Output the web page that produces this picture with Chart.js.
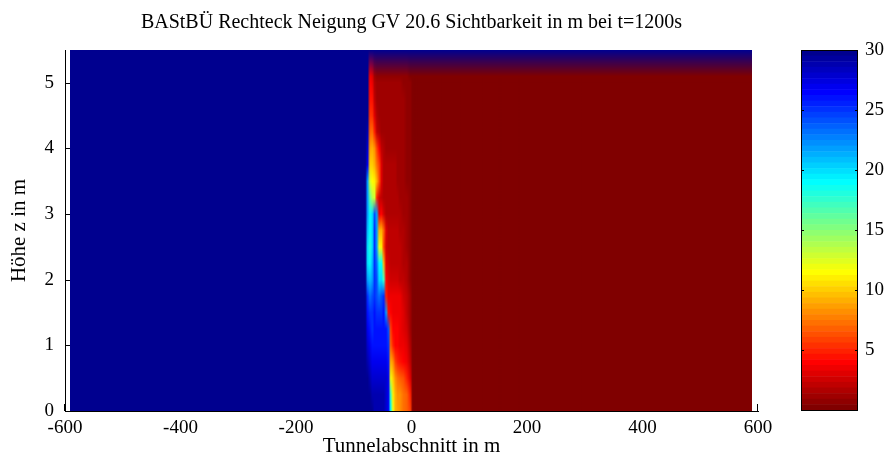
<!DOCTYPE html>
<html>
<head>
<meta charset="utf-8">
<script src="https://cdn.jsdelivr.net/npm/chart.js@4.4.1/dist/chart.umd.min.js"></script>
<style>
html,body{margin:0;padding:0;background:#fff;overflow:hidden;width:888px;height:462px}
#main{position:absolute;left:0;top:0}
#cb{position:absolute;left:780px;top:0}
</style>
</head>
<body>
<canvas id="main" width="888" height="462"></canvas>
<canvas id="cb" width="108" height="462"></canvas>
<script>
// ---------------- DATA ----------------
const chartTitle = 'BAStBÜ Rechteck Neigung GV 20.6 Sichtbarkeit in m bei t=1200s';
const xAxisTitle = 'Tunnelabschnitt in m';
const yAxisTitle = 'Höhe z in m';
const xTicks = [-600, -400, -200, 0, 200, 400, 600];
const yTicks = [0, 1, 2, 3, 4, 5];
const colorTicks = [5, 10, 15, 20, 25, 30];
const colorMin = 0, colorMax = 30;

// grid node positions (tunnel section x in m, height z in m)
const tunnelX = [-592, -80, -76, -72, -68, -64, -60, -56, -52, -48, -44, -40, -36, -32, -28, -24, -20, -14, -8, -2, 2, 590];
const heightZ = [0, 0.25, 0.5, 0.75, 1, 1.25, 1.5, 1.75, 2, 2.25, 2.5, 2.75, 3, 3.25, 3.5, 3.75, 4, 4.25, 4.5, 4.75, 5, 5.1, 5.5];

// visibility in m at each node, one array per height row
const vis_z0_00 = [30, 30, 30, 30, 30, 29, 29, 29, 29, 29, 28, 27, 19, 12, 9, 8.5, 8, 7.5, 7, 6, 0, 0];
const vis_z0_25 = [30, 30, 30, 30, 29, 29, 29, 29, 29, 29, 28, 27, 17, 11, 9, 8, 8, 7.5, 7, 5, 0, 0];
const vis_z0_50 = [30, 30, 30, 29, 28, 28, 28, 28, 28, 28, 28, 27, 12, 10, 8, 7.5, 7, 6.5, 5, 3, 0, 0];
const vis_z0_75 = [30, 30, 29, 28, 27, 27, 27, 27, 27, 27, 27, 26, 9, 8, 6, 5, 4.5, 4, 3.5, 2, 0, 0];
const vis_z1_00 = [30, 30, 28, 27, 26, 26, 26, 26, 26, 26, 26, 25, 7, 5, 4, 3.8, 3.7, 3.5, 3.0, 1.5, 0, 0];
const vis_z1_25 = [30, 30, 27, 26, 25, 26, 26, 26, 26, 26, 26, 24, 6, 4, 3.8, 3.8, 3.7, 3.2, 2.5, 1.2, 0, 0];
const vis_z1_50 = [30, 30, 26, 25, 25, 26, 25, 25, 25, 26, 22, 4.5, 3.8, 3.7, 3.7, 3.7, 3.6, 3.1, 2.3, 1.2, 0, 0];
const vis_z1_75 = [30, 30, 25, 23, 24, 25, 24, 23, 24, 25, 5, 3.6, 3.5, 3.5, 3.5, 3.4, 3.3, 2.8, 2.0, 1.0, 0, 0];
const vis_z2_00 = [30, 30, 22, 21, 22, 25, 24, 20, 20, 17, 4, 3, 2.8, 2.7, 2.6, 2.5, 2.3, 2.0, 1.6, 0.9, 0, 0];
const vis_z2_25 = [30, 30, 20, 19, 21, 25, 23, 19, 19, 9, 3, 2.4, 2.3, 2.3, 2.3, 2.2, 2.0, 1.8, 1.5, 0.8, 0, 0];
const vis_z2_50 = [30, 30, 20, 18, 20, 25, 22, 12, 11, 6, 2.5, 2.1, 2.1, 2.1, 2.1, 2.0, 1.9, 1.7, 1.4, 0.8, 0, 0];
const vis_z2_75 = [30, 30, 21, 19, 20, 25, 22, 9, 9, 7, 3, 2, 1.9, 1.9, 1.9, 1.9, 1.8, 1.6, 1.3, 0.7, 0, 0];
const vis_z3_00 = [30, 30, 22, 19, 20, 24, 22, 3.5, 4, 2.5, 1.8, 1.8, 1.8, 1.8, 1.8, 1.7, 1.6, 1.4, 1.1, 0.6, 0, 0];
const vis_z3_25 = [30, 30, 22, 16, 14, 13, 5, 2.5, 2, 1.7, 1.6, 1.6, 1.6, 1.6, 1.6, 1.5, 1.4, 1.2, 1.0, 0.6, 0, 0];
const vis_z3_50 = [30, 30, 22, 13, 11.5, 11, 9, 6.5, 3, 1.7, 1.5, 1.5, 1.5, 1.5, 1.5, 1.4, 1.3, 1.2, 0.9, 0.5, 0, 0];
const vis_z3_75 = [30, 30, 27, 10, 10, 9, 7.5, 6, 3, 1.6, 1.5, 1.5, 1.5, 1.5, 1.5, 1.4, 1.3, 1.1, 0.9, 0.5, 0, 0];
const vis_z4_00 = [30, 30, 28, 8.5, 9, 8, 6, 4, 2, 1.5, 1.4, 1.4, 1.4, 1.4, 1.4, 1.3, 1.2, 1.1, 0.9, 0.5, 0, 0];
const vis_z4_25 = [30, 30, 29, 7, 7.5, 5, 2.2, 1.6, 1.4, 1.3, 1.3, 1.3, 1.3, 1.3, 1.3, 1.3, 1.2, 1.0, 0.8, 0.5, 0, 0];
const vis_z4_50 = [30, 30, 30, 5.5, 5.5, 3, 1.6, 1.4, 1.3, 1.2, 1.2, 1.2, 1.2, 1.2, 1.2, 1.2, 1.1, 1.0, 0.8, 0.5, 0, 0];
const vis_z4_75 = [30, 30, 30, 4.5, 4.5, 2, 1.4, 1.3, 1.2, 1.1, 1.1, 1.1, 1.1, 1.1, 1.1, 1.1, 1.1, 1.0, 0.8, 0.5, 0, 0];
const vis_z5_00 = [30, 30, 30, 4, 3.5, 1.5, 1.1, 1, 1, 1, 1, 1, 1, 1, 1, 1, 1, 0.9, 0.8, 0.5, 0, 0];
const vis_z5_10 = [30, 30, 30, 3.5, 3, 1.2, 0.8, 0.7, 0.7, 0.7, 0.7, 0.7, 0.7, 0.7, 0.7, 0.7, 0.7, 0.6, 0.5, 0.3, 0, 0];
const vis_z5_50 = [30, 30, 30, 30, 30, 30, 30, 30, 30, 30, 30, 30, 30, 30, 30, 30, 30, 30, 30, 30, 30, 30];

const visRows = [vis_z0_00, vis_z0_25, vis_z0_50, vis_z0_75, vis_z1_00, vis_z1_25, vis_z1_50, vis_z1_75,
  vis_z2_00, vis_z2_25, vis_z2_50, vis_z2_75, vis_z3_00, vis_z3_25, vis_z3_50, vis_z3_75,
  vis_z4_00, vis_z4_25, vis_z4_50, vis_z4_75, vis_z5_00, vis_z5_10, vis_z5_50];

// ---------------- STYLE / COLORMAP ----------------
const SERIF = "'Liberation Serif', 'DejaVu Serif', serif";
const LEVELS = 64;
function jetRow(k) { // MATLAB jet(64) row k (0-based)
  const t = (k + 1) / LEVELS;
  const f = c => Math.max(0, Math.min(1, c)) * 255;
  return [f(1.5 - Math.abs(4 * t - 3)), f(1.5 - Math.abs(4 * t - 2)), f(1.5 - Math.abs(4 * t - 1))];
}
// reversed colormap: high visibility = dark blue, low = dark red
function colorFor(v) {
  let k = Math.floor((colorMax - v) / (colorMax - colorMin) * LEVELS);
  k = Math.max(0, Math.min(LEVELS - 1, k));
  return jetRow(k);
}
function findCell(arr, v) {
  let i = 0;
  while (i < arr.length - 2 && v > arr[i + 1]) i++;
  let f = (v - arr[i]) / (arr[i + 1] - arr[i]);
  f = Math.max(0, Math.min(1, f));
  return [i, f];
}

const heatmapPlugin = {
  id: 'heatmap',
  beforeDatasetsDraw(chart) {
    const xs = chart.scales.x, ys = chart.scales.y, ctx = chart.ctx;
    // inward ticks (hidden by the surface where it covers them)
    ctx.save();
    ctx.strokeStyle = '#000'; ctx.lineWidth = 1;
    ctx.beginPath();
    yTicks.forEach(v => { const p = Math.round(ys.getPixelForValue(v)) + 0.5; ctx.moveTo(xs.left, p); ctx.lineTo(xs.left + 6, p); });
    xTicks.forEach(v => { const p = Math.round(xs.getPixelForValue(v)) - 0.5; ctx.moveTo(p, ys.bottom); ctx.lineTo(p, ys.bottom - 7); });
    ctx.stroke();
    ctx.restore();

    const nodeColors = visRows.map(r => r.map(colorFor));
    const px0 = Math.round(xs.getPixelForValue(tunnelX[0]));
    const px1 = Math.round(xs.getPixelForValue(tunnelX[tunnelX.length - 1]));
    const py0 = Math.round(ys.getPixelForValue(heightZ[heightZ.length - 1]));
    const py1 = Math.round(ys.getPixelForValue(heightZ[0]));
    const w = px1 - px0, h = py1 - py0;
    const img = ctx.createImageData(w, h);
    const colCells = [];
    for (let i = 0; i < w; i++) colCells.push(findCell(tunnelX, xs.getValueForPixel(px0 + i + 0.5)));
    for (let j = 0; j < h; j++) {
      const [r, fz] = findCell(heightZ, ys.getValueForPixel(py0 + j + 0.5));
      const lo = nodeColors[r], hi = nodeColors[r + 1];
      for (let i = 0; i < w; i++) {
        const [c, fx] = colCells[i];
        const o = (j * w + i) * 4;
        for (let ch = 0; ch < 3; ch++) {
          const a = lo[c][ch] * (1 - fx) + lo[c + 1][ch] * fx;
          const b = hi[c][ch] * (1 - fx) + hi[c + 1][ch] * fx;
          img.data[o + ch] = Math.round(a * (1 - fz) + b * fz);
        }
        img.data[o + 3] = 255;
      }
    }
    ctx.putImageData(img, px0, py0);
  }
};

const tickFont = { family: SERIF, size: 19 };
const labelFont = { family: SERIF, size: 21 };

new Chart(document.getElementById('main'), {
  type: 'scatter',
  data: { datasets: [{ data: [], pointRadius: 0 }] },
  options: {
    responsive: false, animation: false, events: [],
    layout: { padding: { left: 0, right: 130, top: 0, bottom: 0 } },
    plugins: {
      legend: { display: false }, tooltip: { enabled: false },
      title: {
        display: true, text: chartTitle, fullSize: false, color: '#000',
        font: { family: SERIF, size: 20, weight: 'normal', lineHeight: 1.2 },
        padding: { top: 11, bottom: 15 }
      }
    },
    scales: {
      x: {
        type: 'linear', min: -600, max: 600, z: 1,
        afterBuildTicks: s => { s.ticks = xTicks.map(v => ({ value: v })); },
        ticks: { font: tickFont, color: '#000', padding: 6, maxRotation: 0, autoSkip: false },
        grid: { drawOnChartArea: false, drawTicks: false },
        border: { display: true, color: '#000', width: 1 },
        title: { display: true, text: xAxisTitle, font: labelFont, color: '#000', padding: { top: 0, bottom: 3 } },
        afterFit: s => { s.height = 51; }
      },
      y: {
        type: 'linear', min: 0, max: 5.5, z: 1,
        afterBuildTicks: s => { s.ticks = yTicks.map(v => ({ value: v })); },
        ticks: { font: tickFont, color: '#000', padding: 11, autoSkip: false },
        grid: { drawOnChartArea: false, drawTicks: false },
        border: { display: true, color: '#000', width: 1 },
        title: { display: true, text: yAxisTitle, font: labelFont, color: '#000', padding: { top: 7, bottom: 0 } },
        afterFit: s => { s.width = 65; }
      }
    }
  },
  plugins: [heatmapPlugin]
});

const colorbarPlugin = {
  id: 'colorbar',
  beforeDatasetsDraw(chart) {
    const ys = chart.scales.y, ctx = chart.ctx, a = chart.chartArea;
    const step = (colorMax - colorMin) / LEVELS;
    for (let k = 0; k < LEVELS; k++) {
      const top = ys.getPixelForValue(colorMax - k * step);
      const bot = ys.getPixelForValue(colorMax - (k + 1) * step);
      const c = jetRow(k);
      ctx.fillStyle = `rgb(${c[0]},${c[1]},${c[2]})`;
      ctx.fillRect(a.left, top, a.right - a.left, bot - top + 0.5);
    }
    ctx.save();
    ctx.strokeStyle = '#000'; ctx.lineWidth = 1;
    ctx.strokeRect(a.left + 0.5, a.top + 0.5, a.right - a.left - 1, a.bottom - a.top);
    ctx.beginPath();
    colorTicks.forEach(v => {
      const p = Math.round(ys.getPixelForValue(v)) + 0.5;
      ctx.moveTo(a.left, p); ctx.lineTo(a.left + 3, p);
      ctx.moveTo(a.right, p); ctx.lineTo(a.right - 3, p);
    });
    ctx.stroke();
    ctx.restore();
  }
};

new Chart(document.getElementById('cb'), {
  type: 'scatter',
  data: { datasets: [{ data: [], pointRadius: 0 }] },
  options: {
    responsive: false, animation: false, events: [],
    layout: { padding: { left: 21, right: 0, top: 50, bottom: 52 } },
    plugins: { legend: { display: false }, tooltip: { enabled: false } },
    scales: {
      x: { display: false, min: 0, max: 1 },
      y: {
        position: 'right', min: colorMin, max: colorMax,
        afterBuildTicks: s => { s.ticks = colorTicks.map(v => ({ value: v })); },
        ticks: { font: tickFont, color: '#000', padding: 7, autoSkip: false },
        grid: { drawOnChartArea: false, drawTicks: false },
        border: { display: false },
        afterFit: s => { s.width = 30; }
      }
    }
  },
  plugins: [colorbarPlugin]
});
</script>
</body>
</html>
